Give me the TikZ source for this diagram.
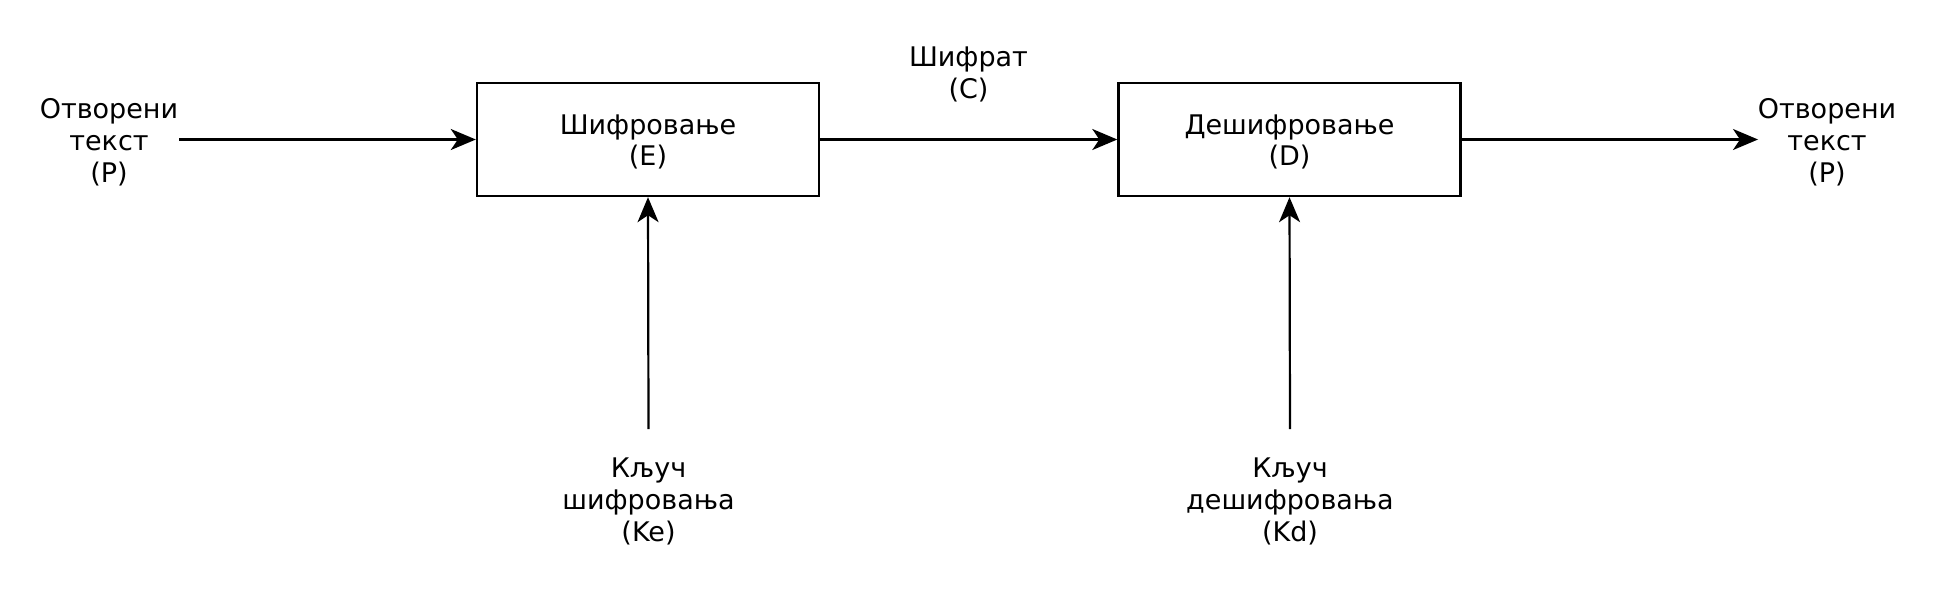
\documentclass[tikz,border=0pt]{standalone}
\usepackage{fontspec}
\setmainfont{DejaVu Sans}
\usetikzlibrary{arrows.meta}
\begin{document}
\begin{tikzpicture}[x=1pt,y=-1pt,
  lbl/.style={align=center,font=\fontsize{27}{32}\selectfont,inner sep=0pt},
  blk/.style={draw,line width=2.4pt,minimum width=342pt,minimum height=113pt,align=center,font=\fontsize{27}{32}\selectfont,inner sep=0pt,text depth=0pt},
  arr/.style={line width=2.2pt,-{Stealth[length=25pt,width=21pt,inset=7pt]}}]
\useasboundingbox (0,0) rectangle (1937,600);
\node[blk] (enc) at (648,139.5) {\raisebox{-1pt}{\shortstack{Шифровање\\[1.5pt](E)}}};
\node[blk] (dec) at (1289.5,139.5) {\raisebox{-1pt}{\shortstack{Дешифровање\\[1.5pt](D)}}};
\node[lbl] (pin) at (109,142) {Отворени\\текст\\(P)};
\node[lbl] (pout) at (1827,142) {Отворени\\текст\\(P)};
\node[lbl] (ct) at (968.5,74.5) {Шифрат\\(C)};
\node[lbl] (ke) at (648.5,501) {Кључ\\шифровања\\(Ke)};
\node[lbl] (kd) at (1290,501) {Кључ\\дешифровања\\(Kd)};
\coordinate (ins) at (179,139.5);
\coordinate (oute) at (1758,139.5);
\coordinate (kes) at (648.5,429);
\coordinate (kds) at (1290,429);
\draw[arr] (ins) -- (enc.west);
\draw[arr] (enc.east) -- (dec.west);
\draw[arr] (dec.east) -- (oute);
\draw[arr] (kes) -- (enc.south);
\draw[arr] (kds) -- (dec.south);
\end{tikzpicture}
\end{document}
